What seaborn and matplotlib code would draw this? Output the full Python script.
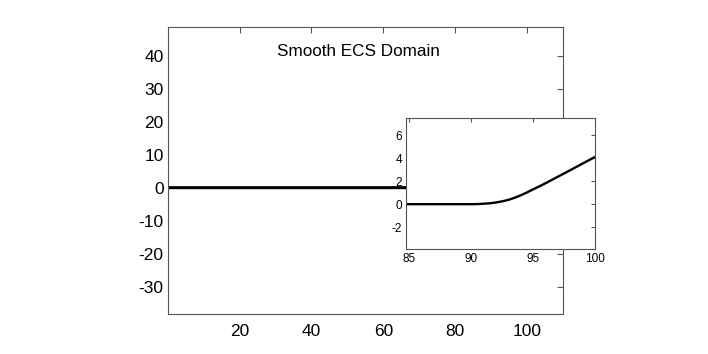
import numpy as np
import pandas as pd
import seaborn as sns
import matplotlib
matplotlib.use("Agg")
import matplotlib.pyplot as plt

# curve (zero until ~90, then smooth rise)
x_vals = [0, 10, 20, 30, 40, 50, 60, 70, 80, 85, 86, 87, 88, 89, 90,
          90.5, 91, 91.5, 92, 92.5, 93, 93.5, 94, 94.5, 95, 95.5, 96,
          97, 98, 99, 100, 105, 110]
y_vals = [0, 0, 0, 0, 0, 0, 0, 0, 0, 0, 0, 0, 0, 0, 0,
          0.01, 0.04, 0.08, 0.15, 0.25, 0.38, 0.56, 0.78, 1.03, 1.3, 1.56, 1.83,
          2.4, 2.97, 3.55, 4.12, 7.0, 9.9]

main_xticks = [20, 40, 60, 80, 100]
main_yticks = [-30, -20, -10, 0, 10, 20, 30, 40]
inset_xticks = [85, 90, 95, 100]
inset_yticks = [-2, 0, 2, 4, 6]
title = "Smooth ECS Domain"

df = pd.DataFrame({"x": x_vals, "y": y_vals})

sns.set_theme(style="white")
plt.rcParams["font.family"] = ["Liberation Sans", "DejaVu Sans"]
plt.rcParams["axes.edgecolor"] = "#555555"
plt.rcParams["axes.linewidth"] = 0.8
plt.rcParams["axes.unicode_minus"] = False
plt.rcParams["text.color"] = "black"
plt.rcParams["xtick.labelcolor"] = "black"
plt.rcParams["ytick.labelcolor"] = "black"

fig = plt.figure(figsize=(7.08, 3.54), dpi=100)
ax = fig.add_axes([0.2369, 0.1130, 0.5583, 0.8116])
sns.lineplot(data=df, x="x", y="y", ax=ax, color="black", lw=2.2)
ax.set_xlim(0, 110)
ax.set_ylim(-38.3, 48.8)
ax.set_xticks(main_xticks)
ax.set_yticks(main_yticks)
ax.set_xlabel("")
ax.set_ylabel("")
ax.tick_params(direction="in", length=4, width=0.8, color="#555555",
               labelsize=12.5, top=True, right=True)
ax.tick_params(axis="x", pad=7)
ax.tick_params(axis="y", pad=3)
ax.text(53, 41.4, title, ha="center", va="center", fontsize=12.3)

ins = fig.add_axes([0.5739, 0.2966, 0.2669, 0.3701])
ins.set_facecolor("white")
sns.lineplot(data=df, x="x", y="y", ax=ins, color="black", lw=1.7)
ins.set_xlim(84.75, 100)
ins.set_ylim(-3.9, 7.5)
ins.set_xticks(inset_xticks)
ins.set_yticks(inset_yticks)
ins.set_xlabel("")
ins.set_ylabel("")
ins.tick_params(direction="in", length=3, width=0.8, color="#555555",
                labelsize=8.5, top=True, right=True, pad=3)

fig.savefig("out.png", dpi=100)
